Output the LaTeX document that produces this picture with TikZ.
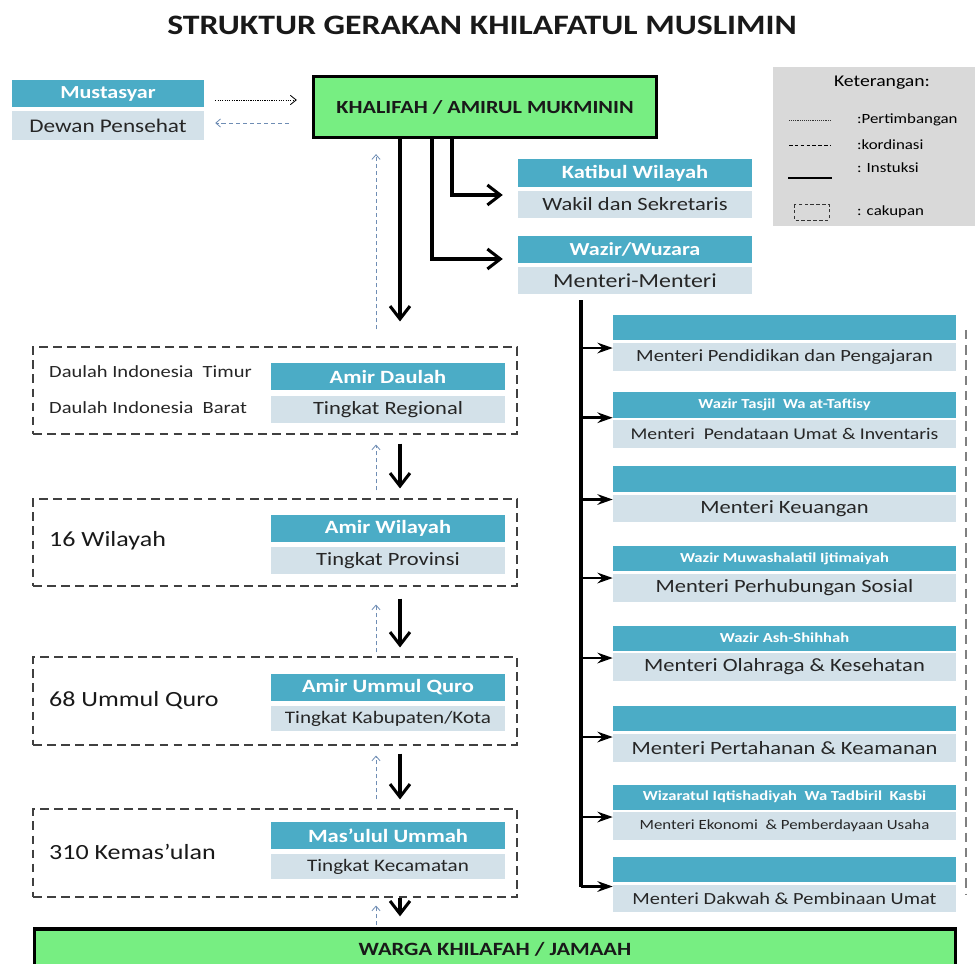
\documentclass[tikz,border=0pt]{standalone}
\usepackage{fontspec}
\setmainfont{Carlito}[FakeStretch=1.2]
\usetikzlibrary{arrows.meta,calc}
\definecolor{headblue}{HTML}{4BACC6}
\definecolor{bodyblue}{HTML}{D3E1E9}
\definecolor{chiefgreen}{HTML}{77EE82}
\definecolor{keygray}{HTML}{D9D9D9}
\definecolor{coordblue}{HTML}{6F8DB4}
\providecommand{\fsz}[1]{\fontsize{#1}{#1}\selectfont}
\tikzstyle{head}=[rectangle, fill=headblue, text=white, inner sep=0pt, minimum width=7.02cm, minimum height=0.81cm, font=\bfseries\fsz{16}]
\tikzstyle{body}=[rectangle, fill=bodyblue, text=black!85, inner sep=0pt, minimum width=7.02cm, minimum height=0.82cm, font=\fsz{16}]
\tikzstyle{wazirhead}=[head, minimum width=10.29cm, minimum height=0.75cm, font=\bfseries\fsz{11.8}]
\tikzstyle{menteribody}=[body, minimum width=10.29cm, minimum height=0.825cm]
\tikzstyle{chief}=[rectangle, draw=black, line width=2.8pt, fill=chiefgreen, text=black!90, inner sep=0pt, font=\bfseries\fsz{15.8}]
\tikzstyle{cakupan}=[rectangle, draw=black!75, dash pattern=on 7.5pt off 4.5pt, line width=0.9pt, minimum width=14.52cm, minimum height=2.61cm]
\tikzstyle{order}=[draw, line width=2.6pt, -{Straight Barb[length=11pt,width=17pt]}]
\tikzstyle{branch}=[draw, line width=2.4pt, -{Stealth[length=13pt,width=9pt]}]
\tikzstyle{coord}=[draw=coordblue, line width=0.8pt, dash pattern=on 3.5pt off 2.5pt, -{Straight Barb[length=4pt,width=7pt,line width=0.7pt]}]
\tikzstyle{advice}=[draw=black, line width=0.8pt, dash pattern=on 1pt off 1pt, -{Straight Barb[length=5pt,width=8pt,line width=0.7pt]}]
\tikzstyle{scopeline}=[draw=black!50, line width=1.7pt, dash pattern=on 8pt off 5pt]
\providecommand{\headbox}{\node[head]}
\providecommand{\bodybox}{\node[body]}

\begin{document}
\begin{tikzpicture}[x=0.03cm, y=-0.03cm]
\useasboundingbox (0,0) rectangle (975,964);
\clip (0,0) rectangle (975,964);
\coordinate (spine) at (400,0);
\coordinate (feed) at (376,0);
\coordinate (trunk) at (581,0);

\node[font=\bfseries\fsz{24}, text=black!90] (title) at (482,25) {STRUKTUR GERAKAN KHILAFATUL MUSLIMIN};

% top row
\headbox (mustasyar) at (108,93.5) [minimum width=5.76cm, font=\bfseries\fsz{15.7}] {Mustasyar};
\bodybox (dewan) at (108,125.5) [minimum width=5.76cm, minimum height=0.87cm, font=\fsz{16.5}] {Dewan Pensehat};
\node[chief, minimum width=10.29cm, minimum height=1.83cm] (khalifah) at (485,107) {KHALIFAH / AMIRUL MUKMININ};

% legend
\node[rectangle, fill=keygray, minimum width=6.06cm, minimum height=4.77cm] (key) at (874,146.5) {};
\node[font=\fsz{14}] (keytitle) at (882,83) {Keterangan:};
\node[anchor=west, font=\fsz{12}] (kpert) at (853,120) {:Pertimbangan};
\node[anchor=west, font=\fsz{12}] (kkord) at (853,145) {:kordinasi};
\node[anchor=west, font=\fsz{12}] (kinst) at (853,168) {: Instuksi};
\node[anchor=west, font=\fsz{12}] (kcak) at (853,212) {: cakupan};
\draw[black!80, line width=0.6pt, dash pattern=on 0.8pt off 0.8pt] (789,120) -- (831,120);
\draw[black, line width=0.8pt, dash pattern=on 3pt off 2pt] (789,145) -- (831,145);
\draw[black, line width=1.2pt] (788,178) -- (832,178);
\draw[black!80, line width=0.8pt, dash pattern=on 3pt off 2pt] (794,204) rectangle (829,220);

% katib and wazir
\headbox (katibul) at (635,173) [minimum height=0.84cm] {Katibul Wilayah};
\bodybox (wakil) at (635,204.5) {Wakil dan Sekretaris};
\headbox (wazir) at (635,249.5) [font=\bfseries\fsz{15.7}] {Wazir/Wuzara};
\bodybox (menteri) at (635,280.5) [font=\fsz{17}] {Menteri-Menteri};

% levels
\node[cakupan] (daulah) at (275,390.5) {};
\node[cakupan] (wilayah) at (275,542.5) {};
\node[cakupan, minimum height=2.64cm] (ummulquro) at (275,701) {};
\node[cakupan, minimum height=2.64cm] (kemasulan) at (275,853) {};
\node[anchor=west, font=\fsz{14.6}, text=black!85] (timur) at (45,372) {Daulah Indonesia\ \ Timur};
\node[anchor=west, font=\fsz{14.6}, text=black!85] (barat) at (45,408) {Daulah Indonesia\ \ Barat};
\node[anchor=west, font=\fsz{18.5}, text=black!90] (nwilayah) at (45,541) {16 Wilayah};
\node[anchor=west, font=\fsz{18.5}, text=black!90] (nquro) at (45,700) {68 Ummul Quro};
\node[anchor=west, font=\fsz{18.5}, text=black!90] (nkemas) at (45,852) {310 Kemas’ulan};
\headbox (amirdaulah) at (388,376.5) {Amir Daulah};
\bodybox (regional) at (388,409.5) {Tingkat Regional};
\headbox (amirwilayah) at (388,528.5) {Amir Wilayah};
\bodybox (provinsi) at (388,560.5) {Tingkat Provinsi};
\headbox (amirquro) at (388,687.5) {Amir Ummul Quro};
\bodybox (kabupaten) at (388,718.5) [minimum height=0.75cm, font=\fsz{15}] {Tingkat Kabupaten/Kota};
\headbox (masulul) at (388,835.5) {Mas’ulul Ummah};
\bodybox (kecamatan) at (388,866.5) [minimum height=0.75cm, font=\fsz{15}] {Tingkat Kecamatan};
\node[chief, minimum width=27.63cm, minimum height=1.2cm, font=\bfseries\fsz{16}] (warga) at (495,949) {WARGA KHILAFAH / JAMAAH};

% ministers
\node[wazirhead] (w1) at (784.5,327.5) {};
\node[menteribody, font=\fsz{14.6}] (m1) at (784.5,357) {Menteri Pendidikan dan Pengajaran};
\node[wazirhead] (w2) at (784.5,405) {Wazir Tasjil\ \ Wa at-Taftisy};
\node[menteribody, font=\fsz{14}] (m2) at (784.5,434) {Menteri\ \ Pendataan Umat \& Inventaris};
\node[wazirhead] (w3) at (784.5,479) {};
\node[menteribody] (m3) at (784.5,508.5) {Menteri Keuangan};
\node[wazirhead] (w4) at (784.5,558.5) {Wazir Muwashalatil Ijtimaiyah};
\node[menteribody] (m4) at (784.5,588) {Menteri Perhubungan Sosial};
\node[wazirhead] (w5) at (784.5,638) {Wazir Ash-Shihhah};
\node[menteribody] (m5) at (784.5,667) {Menteri Olahraga \& Kesehatan};
\node[wazirhead] (w6) at (784.5,718) {};
\node[menteribody] (m6) at (784.5,748) {Menteri Pertahanan \& Keamanan};
\node[wazirhead] (w7) at (784.5,797) {Wizaratul Iqtishadiyah\ \ Wa Tadbiril\ \ Kasbi};
\node[menteribody, font=\fsz{12}] (m7) at (784.5,826) {Menteri Ekonomi\ \ \& Pemberdayaan Usaha};
\node[wazirhead] (w8) at (784.5,869) {};
\node[menteribody, font=\fsz{14.5}] (m8) at (784.5,898.5) {Menteri Dakwah \& Pembinaan Umat};
\draw[scopeline] (966,330) -- (966,895);

% connectors
\path
($(mustasyar.east)+(11,6.5)$) edge[advice] ($(khalifah.west)+(-15,-7)$)
($(khalifah.west)+(-23,16)$) edge[coord] ($(dewan.east)+(11,-2.5)$)
(khalifah.south -| spine) edge[order] ($(daulah.north -| spine)+(0,-25)$)
($(daulah.north -| feed)+(0,-17)$) edge[coord] ($(khalifah.south -| feed)+(0,15)$)
($(khalifah.south)+(-33,0)$) edge[order, to path={|- (\tikztotarget)}] ($(wakil.west)+(-15,-9.5)$)
($(khalifah.south)+(-53,0)$) edge[order, to path={|- (\tikztotarget)}] ($(wazir.west)+(-15,9.5)$)
($(daulah.south -| spine)+(0,9)$) edge[order] ($(wilayah.north -| spine)+(0,-10)$)
($(wilayah.north -| feed)+(0,-8)$) edge[coord] ($(daulah.south -| feed)+(0,10)$)
($(wilayah.south -| spine)+(0,12)$) edge[order] ($(ummulquro.north -| spine)+(0,-9)$)
($(ummulquro.north -| feed)+(0,-4)$) edge[coord] ($(wilayah.south -| feed)+(0,18)$)
($(ummulquro.south -| spine)+(0,8)$) edge[order] ($(kemasulan.north -| spine)+(0,-9)$)
($(kemasulan.north -| feed)+(0,-9)$) edge[coord] ($(ummulquro.south -| feed)+(0,10)$)
(kemasulan.south -| spine) edge[order] ($(warga.north -| spine)+(0,-11)$)
($(warga.north -| feed)+(0,-2)$) edge[coord] ($(kemasulan.south -| feed)+(0,8)$)
;
\draw[line width=2.6pt] ($(menteri.south -| trunk)+(0,6)$) -- ($(m8.north west -| trunk)+(0,2)$);
\path
($(m1.north west -| trunk)+(0,5)$) edge[branch] ($(m1.north west)+(0,5)$)
(w2.south west -| trunk) edge[branch] (w2.south west)
($(m3.north west -| trunk)+(0,5)$) edge[branch] ($(m3.north west)+(0,5)$)
($(m4.north west -| trunk)+(0,4)$) edge[branch] ($(m4.north west)+(0,4)$)
($(m5.north west -| trunk)+(0,5)$) edge[branch] ($(m5.north west)+(0,5)$)
($(m6.north west -| trunk)+(0,3)$) edge[branch] ($(m6.north west)+(0,3)$)
($(m7.north west -| trunk)+(0,5)$) edge[branch] ($(m7.north west)+(0,5)$)
($(m8.north west -| trunk)+(0,2)$) edge[branch] ($(m8.north west)+(0,2)$)
;
\end{tikzpicture}
\end{document}
